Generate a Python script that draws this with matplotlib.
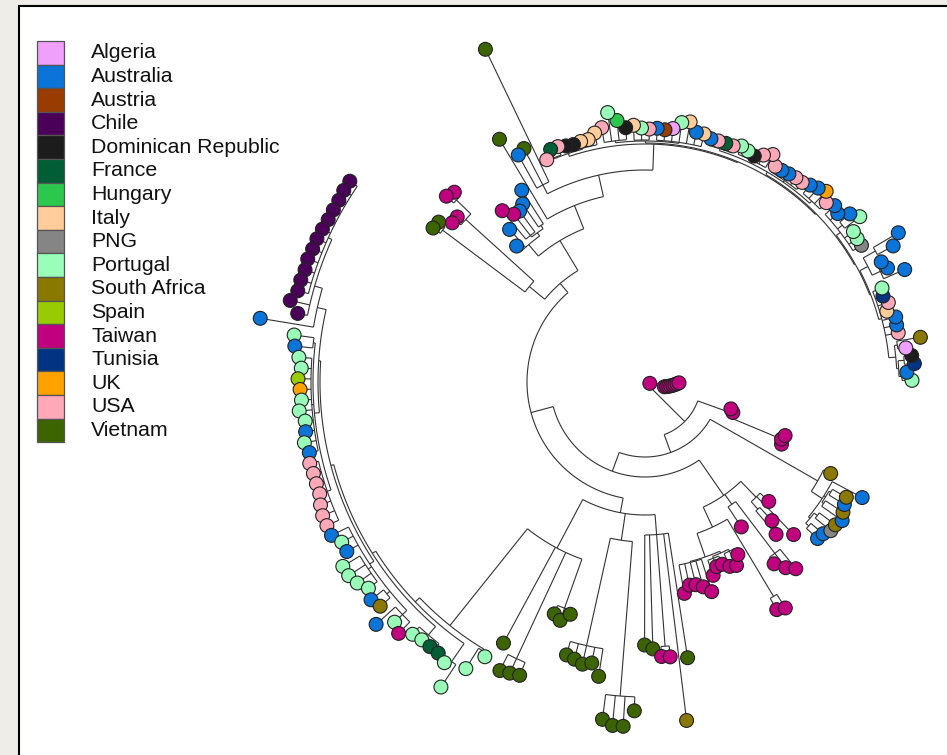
import matplotlib
matplotlib.use('Agg')
import matplotlib.pyplot as plt
from matplotlib.patches import Rectangle
from matplotlib.collections import LineCollection
import numpy as np

# legend: country names, codes used in the tree, fill colours
countries = ['Algeria', 'Australia', 'Austria', 'Chile', 'Dominican Republic', 'France',
             'Hungary', 'Italy', 'PNG', 'Portugal', 'South Africa', 'Spain', 'Taiwan',
             'Tunisia', 'UK', 'USA', 'Vietnam']
codes = ['DZ', 'AU', 'AT', 'CL', 'DO', 'FR', 'HU', 'IT', 'PG', 'PT', 'ZA', 'ES', 'TW',
         'TN', 'UK', 'US', 'VN']
colors = ['#eea0fa', '#0a74d8', '#983c00', '#4a0058', '#1c1c1c', '#005e36', '#2cc84e',
          '#ffcc9a', '#858585', '#98feb8', '#8a7800', '#98cc00', '#c0007e', '#003482',
          '#ffa200', '#ffa8b8', '#3c6400']

# tree pieces (newick, branch lengths in pixel units from the root)
R1 = ("((((PT:10,AU:5):3,(TN:10,DO:8):6):2,(DZ:8,ZA:24):3):7,"
      "US:13,AU:13,AU:14,IT:7,US:11,TN:8,PT:10)")
R2 = "((AU:23,AU:8,AU:5):9,(AU:18,AU:29):14)"
R3 = "(PG:10,PT:10,PT:11,(PT:19,AU:13):6,AU:10,AU:13)"
R4 = ("((US:9,UK:17,AU:14,AU:11):3,(US:9,US:9,AU:8,AU:7,US:7):2,"
      "(US:15,US:10,DO:5,PT:7,PT:9):3,(US:7,FR:7,US:7,AU:7):2)")
R5A = ("((IT:13,AU:13,IT:22,PT:20,DZ:13,AT:11,AU:12):1,(US:11,PT:12,IT:15):1,"
       "(DO:12,HU:20,PT:29,US:15):2)")
R5B = "((IT:12,IT:7,IT:7,DO:6,DO:7):1,(US:9,FR:9,US:1):1)"
RING = "(((((<R1>:3,<R2>:9):1,<R3>:5):1,<R4>:3):1,<R5A>:2):1,<R5B>:3)"
VNAU3 = "(VN:147,VN:41,AU:38)"
AUTW7 = "(((AU:40,AU:28):4,(AU:26,TW:27,TW:37):2):4,AU:24,AU:7)"
LEFT6 = "(((TW:7,TW:10):20,(TW:5,TW:5):3):92,(VN:8,VN:9):103)"
BIG = "((((<RING>:26,<VNAU3>:10):22,VN:93):25,<AUTW7>:15):35,<LEFT6>:20)"

CHILE = "((CL:9,CL:9,CL:8,CL:8,CL:8,CL:9,CL:10,CL:10,CL:11,CL:10,CL:11,CL:11):4,CL:20,CL:10)"
COL1 = ("((PT:20,AU:18):2,(PT:13,PT:10,ES:13,UK:11,PT:10,PT:13,PT:8,AU:9,PT:12,AU:9):2,"
        "(US:9,US:8,US:8,US:8,US:11,US:13,US:13):4)")
COL2 = "(AU:19,PT:13,AU:13,(PT:20,PT:20,PT:17,PT:11):4,(AU:16,ZA:13):4,(AU:26,PT:11,TW:16):6)"
COL3 = "(PT:10,PT:8,(FR:6,FR:6):2)"
LEFTCOL = ("((((((<CHILE>:8,AU:54):9,<COL1>:5):2,<COL2>:5):3,<COL3>:11):4,"
           "(PT:5,PT:27):22):6,(PT:24,PT:4):2)")
VA = "(<LEFTCOL>:124,VN:109,(VN:18,VN:16,VN:14):117,(VN:9,VN:13,VN:4):52)"
VB = "((VN:14,VN:16,VN:19,VN:16,VN:28):110,(VN:25,VN:30,VN:30,VN:14):155)"
VC = "(VN:110,VN:114,(TW:10,TW:11):112,ZA:188,VN:126)"
VNB = "(<VA>:55,<VB>:27,<VC>:20)"

CLUS = "((TW:29,TW:22,TW:23,TW:27,TW:34):1,((TW:16,TW:9,TW:9):2,(TW:14,TW:16,TW:7):2):2)"
TWBR = ("((<CLUS>:25,(TW:13,TW:16):90):22,(TW:24,(TW:8,TW:18,TW:25):65):12,"
        "((TW:31,TW:18):10,TW:53,TW:12):22)")
SACL = "(((AU:15,AU:16):4,(PG:20,ZA:20):4):2,((AU:25,ZA:21):2,(AU:18,ZA:16):2):2,AU:34)"
TWSA = "(<SACL>:13,ZA:8)"
TW345 = "((TW:2,TW:0,TW:2):58,TW:3,TW:0)"
TWOUT = "(TW:1,(TW:6,TW:8,TW:10,TW:12,TW:14,TW:16,TW:18,TW:20):10)"

BACKBONE = "(((((<BIG>:12,<VNB>:15):23,<TWBR>:43):20,<TWSA>:124):19,<TW345>:34):56,<TWOUT>:4);"

pieces = dict(R1=R1, R2=R2, R3=R3, R4=R4, R5A=R5A, R5B=R5B, RING=RING, VNAU3=VNAU3,
              AUTW7=AUTW7, LEFT6=LEFT6, BIG=BIG, CHILE=CHILE, COL1=COL1, COL2=COL2,
              COL3=COL3, LEFTCOL=LEFTCOL, VA=VA, VB=VB, VC=VC, VNB=VNB, CLUS=CLUS,
              TWBR=TWBR, SACL=SACL, TWSA=TWSA, TW345=TW345, TWOUT=TWOUT)

newick = BACKBONE
while '<' in newick:
    for k, v in pieces.items():
        newick = newick.replace('<' + k + '>', v)


def parse(s):
    s = s.strip().rstrip(';')
    pos = 0

    def node():
        nonlocal pos
        kids = []
        if s[pos] == '(':
            pos += 1
            while True:
                kids.append(node())
                if s[pos] == ',':
                    pos += 1
                    continue
                pos += 1
                break
        start = pos
        while pos < len(s) and s[pos] not in ':,()':
            pos += 1
        label = s[start:pos]
        length = 0.0
        if pos < len(s) and s[pos] == ':':
            pos += 1
            start = pos
            while pos < len(s) and s[pos] not in ',()':
                pos += 1
            length = float(s[start:pos])
        return {'label': label, 'len': length, 'kids': kids}

    return node()


tree = parse(newick)
tips = []


def set_radius(n, r):
    n['r'] = r + n['len']
    if not n['kids']:
        tips.append(n)
    for k in n['kids']:
        set_radius(k, n['r'])


tree['len'] = 0.0
set_radius(tree, 0.0)
step = 2 * np.pi / len(tips)
for i, t in enumerate(tips):
    t['a'] = (i + 0.2) * step


def set_angle(n):
    if n['kids']:
        n['a'] = np.mean([set_angle(k) for k in n['kids']])
    return n['a']


set_angle(tree)

W, H = 947, 755
cx, cy = 645, 382
fig = plt.figure(figsize=(W / 100, H / 100), dpi=100)
fig.patch.set_facecolor('#efede7')
ax = fig.add_axes([0, 0, 1, 1])
ax.set_xlim(0, W)
ax.set_ylim(H, 0)
ax.axis('off')
ax.add_patch(Rectangle((19, 6), 950, 770, facecolor='white', edgecolor='black', lw=1.5, zorder=0))


def xy(r, a):
    return cx + r * np.cos(a), cy - r * np.sin(a)


segs = []


def collect(n):
    if not n['kids']:
        return
    a0 = min(k['a'] for k in n['kids'])
    a1 = max(k['a'] for k in n['kids'])
    aa = np.linspace(a0, a1, max(2, int((a1 - a0) / 0.01)))
    px, py = xy(n['r'], aa)
    segs.append(np.column_stack([px, py]))
    for k in n['kids']:
        segs.append([xy(n['r'], k['a']), xy(k['r'], k['a'])])
        collect(k)


collect(tree)
ax.add_collection(LineCollection(segs, colors='#333333', linewidths=0.8, zorder=1))

col_of = dict(zip(codes, colors))
tx = [xy(t['r'], t['a'])[0] for t in tips]
ty = [xy(t['r'], t['a'])[1] for t in tips]
tc = [col_of[t['label']] for t in tips]
ax.scatter(tx, ty, s=100, c=tc, edgecolors='#222222', linewidths=0.8, zorder=3)

# legend
row = 23.6
for k, (name, c) in enumerate(zip(countries, colors)):
    ax.add_patch(Rectangle((37, 41 + k * row), 27, row, facecolor=c, edgecolor='#555555', lw=0.9, zorder=2))
    ax.text(91, 41 + (k + 0.5) * row, name, va='center', ha='left', fontsize=15.3,
            family=['Liberation Sans', 'DejaVu Sans'], color='#111111')

fig.savefig('out.png', dpi=100, facecolor=fig.get_facecolor())
